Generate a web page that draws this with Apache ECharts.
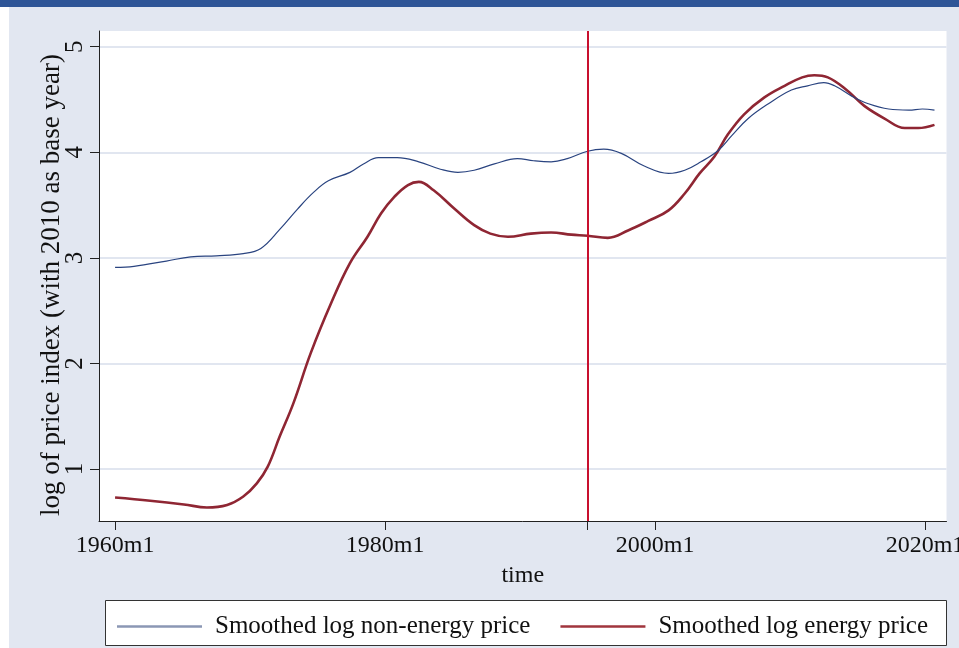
<!DOCTYPE html>
<html>
<head>
<meta charset="utf-8">
<script src="https://cdn.jsdelivr.net/npm/echarts@6/dist/echarts.min.js"></script>
<style>
  html, body { margin: 0; padding: 0; background: #ffffff; }
  #chart { width: 959px; height: 648px; }
</style>
</head>
<body>
<div id="chart"></div>
<script>
// Smoothed log non-energy price index (decimal years)
const nonEnergyYears = [1960.0, 1961.4, 1963.8, 1965.6, 1967.5, 1969.5, 1970.8, 1972.2, 1973.5, 1974.7,
  1975.8, 1977.4, 1978.4, 1979.5, 1980.9, 1982.5, 1984.1, 1985.4, 1986.6, 1988.1,
  1989.8, 1991.0, 1992.3, 1993.5, 1995.0, 1996.2, 1997.5, 1999.2, 2001.0, 2002.2,
  2003.4, 2004.7, 2005.7, 2006.9, 2008.4, 2010.1, 2011.3, 2012.5, 2013.3, 2014.6,
  2015.8, 2017.3, 2018.8, 2019.8, 2020.7];
const nonEnergyValues = [2.91, 2.92, 2.97, 3.01, 3.02, 3.04, 3.09, 3.27, 3.46, 3.62,
  3.73, 3.81, 3.89, 3.95, 3.95, 3.91, 3.84, 3.81, 3.83, 3.89,
  3.94, 3.92, 3.91, 3.94, 4.01, 4.03, 3.99, 3.87, 3.80, 3.83,
  3.91, 4.02, 4.16, 4.32, 4.46, 4.59, 4.63, 4.66, 4.63, 4.53,
  4.46, 4.41, 4.40, 4.41, 4.40];

// Smoothed log energy price index (decimal years)
const energyYears = [1960.0, 1962.6, 1965.1, 1966.8, 1968.3, 1969.5, 1970.5, 1971.3, 1972.2, 1973.2,
  1974.5, 1976.0, 1977.4, 1978.7, 1979.7, 1980.7, 1981.7, 1982.5, 1983.6, 1985.1,
  1986.6, 1987.8, 1989.1, 1990.8, 1992.3, 1993.8, 1995.0, 1996.5, 1998.0, 1999.5,
  2001.0, 2002.2, 2003.3, 2004.4, 2005.4, 2006.6, 2008.1, 2009.6, 2010.9, 2011.8,
  2012.8, 2014.1, 2015.5, 2017.0, 2018.5, 2019.5, 2020.7];
const energyValues = [0.73, 0.70, 0.665, 0.636, 0.66, 0.74, 0.865, 1.02, 1.31, 1.62,
  2.10, 2.57, 2.95, 3.20, 3.42, 3.58, 3.69, 3.72, 3.64, 3.47,
  3.31, 3.23, 3.20, 3.23, 3.24, 3.22, 3.21, 3.19, 3.26, 3.35,
  3.45, 3.61, 3.80, 3.96, 4.17, 4.36, 4.52, 4.63, 4.71, 4.73,
  4.71, 4.60, 4.44, 4.32, 4.23, 4.23, 4.26];

const xLabelYears = [1960, 1980, 2000, 2020];
const xTickYears = [1960, 1980, 1995, 2000, 2020];
const yTicks = [1, 2, 3, 4, 5];
const breakYear = 1995;
const seriesNames = ['Smoothed log non-energy price', 'Smoothed log energy price'];

const pair = (xs, ys) => xs.map((x, i) => [x, ys[i]]);

const FONT = '"Liberation Serif", "DejaVu Serif", serif';
const BG = '#e2e7f1';

const chart = echarts.init(document.getElementById('chart'), null, { renderer: 'canvas' });

chart.setOption({
  backgroundColor: BG,
  animation: false,
  textStyle: { fontFamily: FONT, color: '#111' },
  graphic: [
    { type: 'rect', left: 0, top: 0, shape: { width: 9, height: 648 }, style: { fill: '#ffffff' }, z: -1 },
    { type: 'rect', left: 0, top: 0, shape: { width: 959, height: 7 }, style: { fill: '#2e5597' }, z: 10 },
    { type: 'rect', left: 105, top: 600,
      shape: { width: 841, height: 45 },
      style: { fill: '#ffffff', stroke: '#333', lineWidth: 1 }, z: 0 }
  ],
  grid: {
    left: 99, right: 12.5, top: 31, bottom: 127,
    outerBoundsMode: 'none', containLabel: false,
    show: true, backgroundColor: '#ffffff', borderWidth: 0
  },
  legend: {
    left: 112, top: 609,
    itemWidth: 85, itemHeight: 2.5, itemGap: 30,
    icon: 'rect',
    textStyle: { fontFamily: FONT, fontSize: 25, color: '#111', padding: [0, 0, 0, 8] },
    data: [
      { name: seriesNames[0], itemStyle: { color: '#8b97b4' } },
      { name: seriesNames[1], itemStyle: { color: '#a0353d' } }
    ],
    z: 5
  },
  xAxis: {
    type: 'value',
    min: 1958.81, max: 2021.59,
    name: 'time', nameLocation: 'middle', nameGap: 43,
    nameMoveOverlap: false,
    nameTextStyle: { fontFamily: FONT, fontSize: 24, color: '#111' },
    axisLine: { show: true, lineStyle: { color: '#222', width: 1 } },
    axisTick: { show: true, length: 9, customValues: xTickYears, lineStyle: { color: '#222' } },
    axisLabel: {
      customValues: xLabelYears, margin: 13,
      fontFamily: FONT, fontSize: 24, color: '#111',
      formatter: v => v + 'm1'
    },
    splitLine: { show: false }
  },
  yAxis: {
    type: 'value',
    min: 0.508, max: 5.149,
    name: 'log of price index (with 2010 as base year)',
    nameLocation: 'middle', nameRotate: 90, nameGap: 34,
    nameMoveOverlap: false,
    nameTextStyle: { fontFamily: FONT, fontSize: 27, color: '#111', padding: [0, 18, 0, 0] },
    axisLine: { show: true, lineStyle: { color: '#222', width: 1 } },
    axisTick: { show: true, length: 9, customValues: yTicks, lineStyle: { color: '#222' } },
    axisLabel: {
      customValues: yTicks, rotate: 90, margin: 11,
      fontFamily: FONT, fontSize: 25, color: '#111'
    },
    splitLine: { show: true, lineStyle: { color: '#e1e6f0', width: 2 } }
  },
  series: [
    {
      name: seriesNames[0], type: 'line', smooth: 0.4, showSymbol: false,
      data: pair(nonEnergyYears, nonEnergyValues),
      lineStyle: { color: '#2a4480', width: 1.2 },
      itemStyle: { color: '#2a4480' },
      z: 3,
      markLine: {
        silent: true, symbol: 'none', label: { show: false },
        lineStyle: { color: '#c8102e', width: 2, type: 'solid' },
        data: [{ xAxis: breakYear }]
      }
    },
    {
      name: seriesNames[1], type: 'line', smooth: 0.4, showSymbol: false,
      data: pair(energyYears, energyValues),
      lineStyle: { color: '#8f2633', width: 2.6 },
      itemStyle: { color: '#8f2633' },
      z: 2
    }
  ]
});
</script>
</body>
</html>
